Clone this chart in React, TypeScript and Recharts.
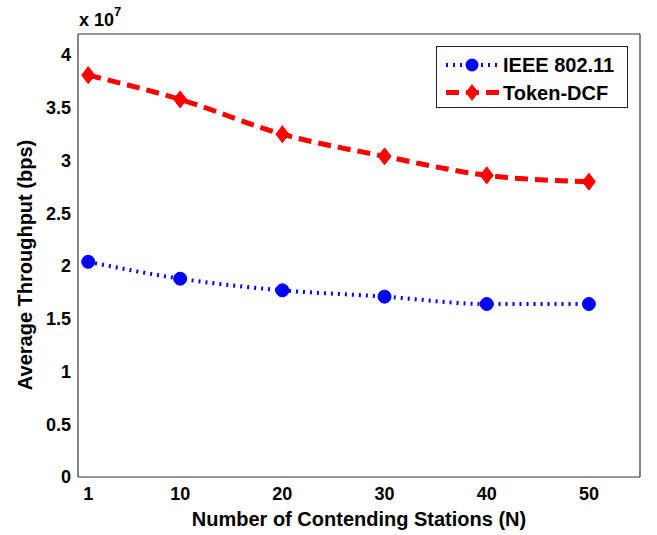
import React from 'react';
import { LineChart, Line, XAxis, YAxis, Legend, Label } from 'recharts';

const FONT = '"Liberation Sans", Arial, Helvetica, sans-serif';

const stations = [1, 10, 20, 30, 40, 50];
const ieee80211 = [2.04e7, 1.88e7, 1.77e7, 1.71e7, 1.64e7, 1.64e7];
const tokenDcf = [3.81e7, 3.58e7, 3.25e7, 3.04e7, 2.86e7, 2.8e7];
const xTicks = [1, 10, 20, 30, 40, 50];
const yTicks = [0, 0.5e7, 1e7, 1.5e7, 2e7, 2.5e7, 3e7, 3.5e7, 4e7];
const xDomain: [number, number] = [0, 55];
const yDomain: [number, number] = [0, 4.2e7];
const seriesNames = ['IEEE 802.11', 'Token-DCF'];
const xTitle = 'Number of Contending Stations (N)';
const yTitle = 'Average Throughput (bps)';

const data = stations.map((n, i) => ({ n, ieee: ieee80211[i], token: tokenDcf[i] }));

const BLUE = '#0000ff';
const RED = '#ff0000';
const AXIS = '#333333';

const tickStyle = { fill: '#000', fontSize: 18, fontWeight: 'bold', fontFamily: FONT };

const CircleDot = (props: any) => {
  const { cx, cy, index } = props;
  if (cx == null || cy == null) return <g key={`c${index}`} />;
  return <circle key={`c${index}`} cx={cx} cy={cy} r={6.5} fill={BLUE} stroke={BLUE} strokeWidth={1} />;
};

const DiamondDot = (props: any) => {
  const { cx, cy, index } = props;
  if (cx == null || cy == null) return <g key={`d${index}`} />;
  const w = 6.5;
  const h = 8.5;
  return (
    <polygon
      key={`d${index}`}
      points={`${cx},${cy - h} ${cx + w},${cy} ${cx},${cy + h} ${cx - w},${cy}`}
      fill={RED}
      stroke={RED}
      strokeWidth={1}
      strokeLinejoin="round"
    />
  );
};

const LegendBox = () => (
  <div
    style={{
      position: 'relative',
      width: 190,
      height: 60,
      border: '1px solid #222',
      background: '#fff',
      fontFamily: FONT,
      fontWeight: 'bold',
      fontSize: 20,
      color: '#000',
    }}
  >
    <svg width={66} height={60} style={{ position: 'absolute', left: 0, top: 0 }}>
      <line x1={9} x2={62} y1={18} y2={18} stroke={BLUE} strokeWidth={4} strokeDasharray="2 5" />
      <circle cx={35} cy={18} r={6.5} fill={BLUE} />
      <line x1={9} x2={62} y1={45.5} y2={45.5} stroke={RED} strokeWidth={5} strokeDasharray="13 7" />
      <polygon points="35,37 41.5,45.5 35,54 28.5,45.5" fill={RED} />
    </svg>
    <div style={{ position: 'absolute', left: 66, top: 6, lineHeight: '24px', whiteSpace: 'nowrap' }}>
      {seriesNames[0]}
    </div>
    <div style={{ position: 'absolute', left: 66, top: 33.5, lineHeight: '24px', whiteSpace: 'nowrap' }}>
      {seriesNames[1]}
    </div>
  </div>
);

const YTitle = () => (
  <g>
    <text
      transform="translate(32, 265) rotate(-90)"
      textAnchor="middle"
      fontSize={20}
      fontWeight="bold"
      fontFamily={FONT}
      fill="#000"
    >
      {yTitle}
    </text>
    <text x={79} y={26} fontSize={18} fontWeight="bold" fontFamily={FONT} fill="#000">
      x 10
    </text>
    <text x={114} y={16} fontSize={13} fontWeight="bold" fontFamily={FONT} fill="#000">
      7
    </text>
  </g>
);

export default function App() {
  return (
    <div style={{ position: 'absolute', left: 0, top: 0, width: 657, height: 535, background: '#fff' }}>
      <LineChart
        width={657}
        height={535}
        data={data}
        margin={{ top: 34, right: 17, bottom: 0, left: 0 }}
      >
        <XAxis
          xAxisId="b"
          dataKey="n"
          type="number"
          domain={xDomain}
          ticks={xTicks}
          orientation="bottom"
          height={58}
          tickLine={false}
          tickSize={0}
          tickMargin={10}
          axisLine={{ stroke: AXIS, strokeWidth: 1.2 }}
          tick={tickStyle}
          interval={0}
        >
          <Label
            value={xTitle}
            position="insideBottom"
            offset={9}
            style={{ fill: '#000', fontSize: 20, fontWeight: 'bold', fontFamily: FONT }}
          />
        </XAxis>
        <XAxis
          xAxisId="bm"
          dataKey="n"
          type="number"
          domain={xDomain}
          ticks={xTicks}
          orientation="bottom"
          mirror
          tick={false}
          tickSize={5}
          tickLine={{ stroke: AXIS, strokeWidth: 1.2 }}
          axisLine={false}
          interval={0}
        />
        <XAxis
          xAxisId="t"
          dataKey="n"
          type="number"
          domain={xDomain}
          ticks={xTicks}
          orientation="top"
          mirror
          tick={false}
          tickSize={5}
          tickLine={{ stroke: AXIS, strokeWidth: 1.2 }}
          axisLine={{ stroke: AXIS, strokeWidth: 1.2 }}
          interval={0}
        />
        <YAxis
          yAxisId="l"
          type="number"
          domain={yDomain}
          ticks={yTicks}
          orientation="left"
          width={78}
          tickLine={false}
          tickSize={0}
          tickMargin={7}
          axisLine={{ stroke: AXIS, strokeWidth: 1.2 }}
          tick={tickStyle}
          tickFormatter={(v: number) => String(v / 1e7)}
          interval={0}
        >
          <Label content={<YTitle />} />
        </YAxis>
        <YAxis
          yAxisId="lm"
          type="number"
          domain={yDomain}
          ticks={yTicks}
          orientation="left"
          mirror
          tick={false}
          tickSize={5}
          tickLine={{ stroke: AXIS, strokeWidth: 1.2 }}
          axisLine={false}
          interval={0}
        />
        <YAxis
          yAxisId="r"
          type="number"
          domain={yDomain}
          ticks={yTicks}
          orientation="right"
          mirror
          tick={false}
          tickSize={5}
          tickLine={{ stroke: AXIS, strokeWidth: 1.2 }}
          axisLine={{ stroke: AXIS, strokeWidth: 1.2 }}
          interval={0}
        />
        <Legend
          layout="vertical"
          align="center"
          verticalAlign="middle"
          content={<LegendBox />}
          wrapperStyle={{ left: 436, top: 46, width: 'auto', height: 'auto' }}
        />
        <Line
          xAxisId="b"
          yAxisId="l"
          type="monotone"
          dataKey="ieee"
          name={seriesNames[0]}
          stroke={BLUE}
          strokeWidth={4}
          strokeDasharray="2 5"
          dot={CircleDot}
          activeDot={false}
          isAnimationActive={false}
        />
        <Line
          xAxisId="b"
          yAxisId="l"
          type="monotone"
          dataKey="token"
          name={seriesNames[1]}
          stroke={RED}
          strokeWidth={5}
          strokeDasharray="13 7"
          dot={DiamondDot}
          activeDot={false}
          isAnimationActive={false}
        />
      </LineChart>
    </div>
  );
}
